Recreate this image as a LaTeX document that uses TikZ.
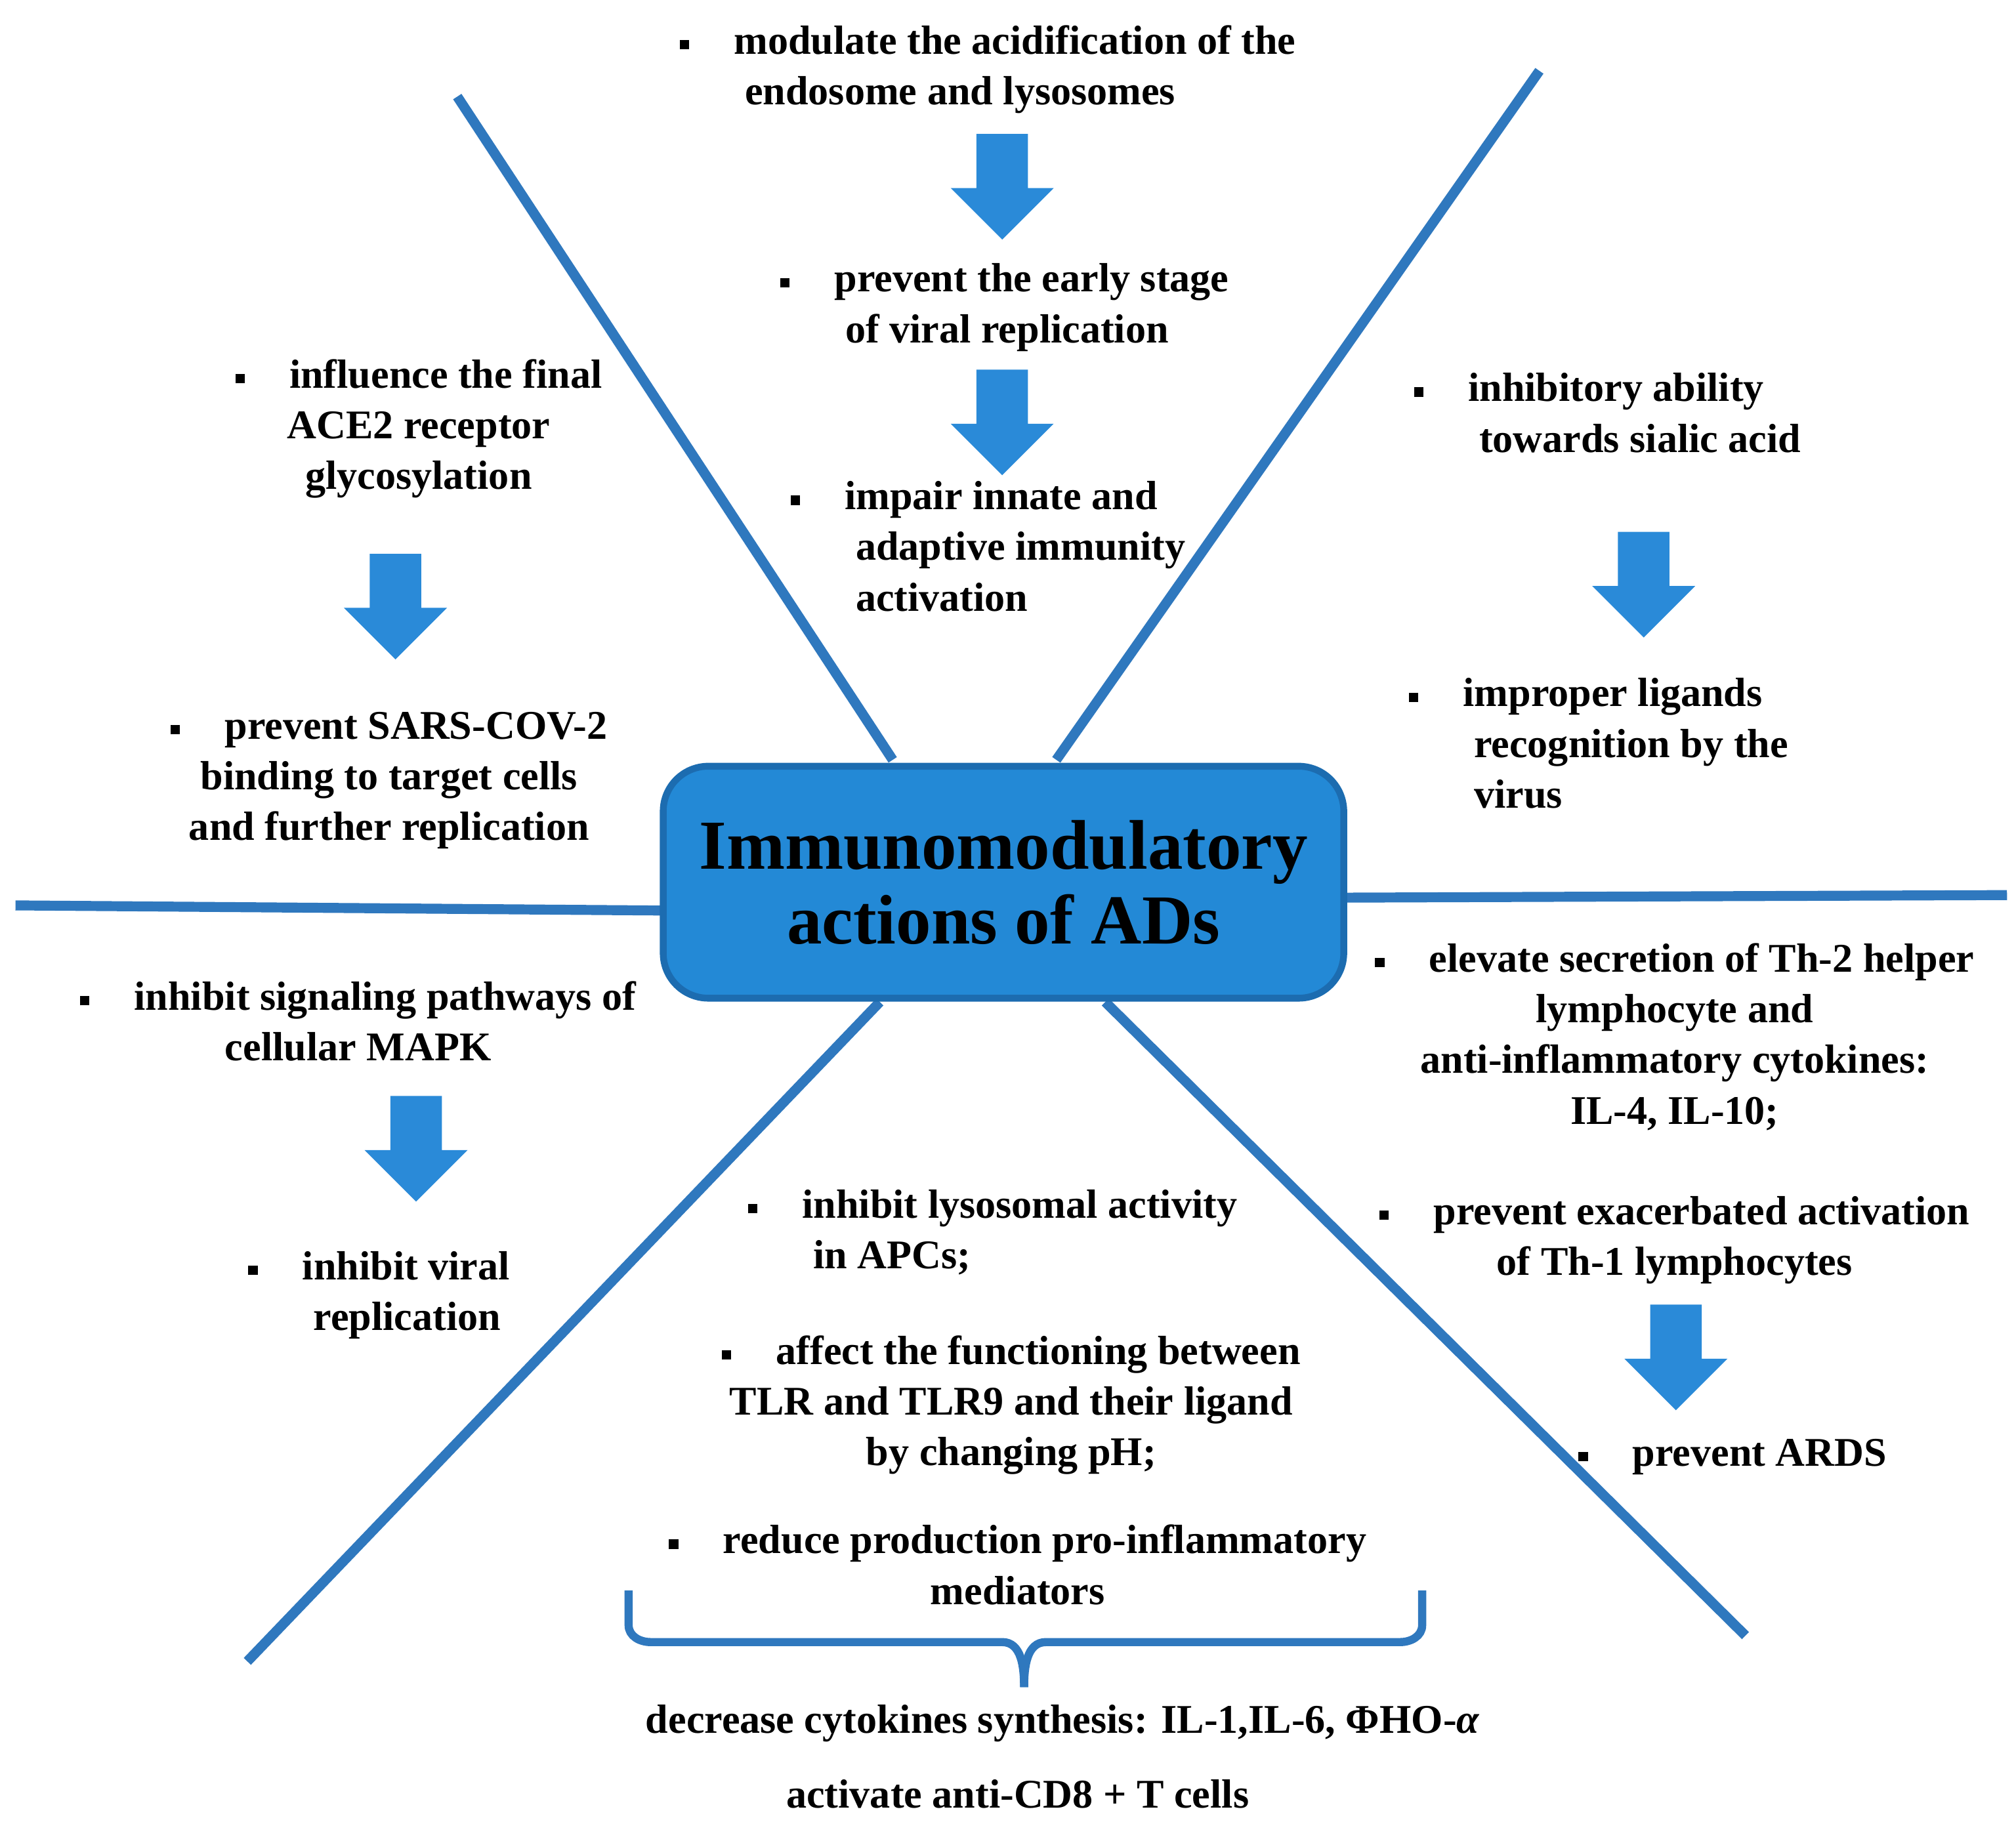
\documentclass[tikz,border=0pt]{standalone}
\usepackage{fontspec}
\setmainfont{Liberation Serif}
\newcommand\sqb{\rule[0.25ex]{0.5ex}{0.5ex}\hspace{1.1em}}
\newcommand\ind{\hspace*{1.6em}}
\definecolor{lineblue}{HTML}{2F78BE}
\definecolor{arrblue}{HTML}{2A8AD8}
\definecolor{boxblue}{HTML}{2389D6}
\definecolor{boxedge}{HTML}{1C6CB0}
\newcommand\dnarrow[2]{\fill[arrblue] ({#1-20},{#2})--({#1+20},{#2})--({#1+20},{#2+42})--({#1+40},{#2+42})--({#1},{#2+82})--({#1-40},{#2+42})--({#1-20},{#2+42})--cycle;}
\begin{document}
\begin{tikzpicture}[x=0.01cm,y=-0.01cm,
  ray/.style={lineblue,line width=2.2pt},
  txt/.style={font=\fontsize{9}{11.2}\selectfont\bfseries,inner sep=0pt},
  tl/.style={txt,align=left,anchor=north west},
  tc/.style={txt,align=center}]
\useasboundingbox (0,0) rectangle (1565,1416);
% rays
\draw[ray] (355,75) -- (693,590);
\draw[ray] (1195,55) -- (820,590);
\draw[ray] (12,703) -- (515,707);
\draw[ray] (1043,697) -- (1558,695);
\draw[ray] (683,778) -- (192,1290);
\draw[ray] (858,778) -- (1355,1270);
% centre
\node[draw=boxedge,line width=1.5pt,fill=boxblue,rounded corners=0.35cm,minimum width=5.28cm,minimum height=1.8cm,align=center,font=\fontsize{15.5}{16.5}\selectfont\bfseries] (c) at (779,685) {Immunomodulatory\\actions of ADs};
% arrows
\dnarrow{778}{104}
\dnarrow{778}{287}
\dnarrow{307}{430}
\dnarrow{1276}{413}
\dnarrow{323}{851}
\dnarrow{1301}{1013}
% texts
\node[tl] (b1) at (527,19) {\sqb modulate the acidification of the\\\ind endosome and lysosomes};
\node[tl] (b2) at (605,204) {\sqb prevent the early stage\\\ind of viral replication};
\node[tl] (b3) at (613,373) {\sqb impair innate and\\\ind adaptive immunity\\\ind activation};
\node[tc] (b4) at (325,333) {\sqb influence the final\\ACE2 receptor\\glycosylation};
\node[tc] (b5) at (302,606) {\sqb prevent SARS-COV-2\\binding to target cells\\and further replication};
\node[tl] (b6) at (1097,289) {\sqb inhibitory ability\\\ind towards sialic acid};
\node[tl] (b7) at (1093,526) {\sqb improper ligands\\\ind recognition by the\\\ind virus};
\node[tc] (b8) at (1300,805) {\sqb elevate secretion of Th-2 helper\\lymphocyte and\\anti-inflammatory cytokines:\\IL-4, IL-10;};
\node[tc] (b9) at (1300,963) {\sqb prevent exacerbated activation\\of Th-1 lymphocytes};
\node[tc] (b10) at (1345,1131) {\sqb prevent ARDS};
\node[tc] (b11) at (278,793) {\sqb inhibit signaling pathways of\\cellular MAPK};
\node[tl] (b12) at (192,971) {\sqb inhibit viral\\\ind replication};
\node[tl] (b13) at (580,923) {\sqb inhibit lysosomal activity\\\ind in APCs;};
\node[tc] (b14) at (785,1091) {\sqb affect the functioning between\\TLR and TLR9 and their ligand\\by changing pH;};
\node[tc] (b15) at (790,1215) {\sqb reduce production pro-inflammatory\\mediators};
\node[tc] (b16) at (825,1338) {decrease cytokines synthesis: IL-1,IL-6, ΦHO-\textit{α}};
\node[tc] (b17) at (790,1393) {activate anti-CD8 + T cells};
% brace
\draw[lineblue,line width=1.8pt] (488,1235) -- (488,1262) to[out=-90,in=180] (505,1275) -- (778,1275) to[out=0,in=90] (795,1310);
\draw[lineblue,line width=1.8pt] (1104,1235) -- (1104,1262) to[out=-90,in=0] (1087,1275) -- (812,1275) to[out=180,in=90] (795,1310);
\end{tikzpicture}
\end{document}
